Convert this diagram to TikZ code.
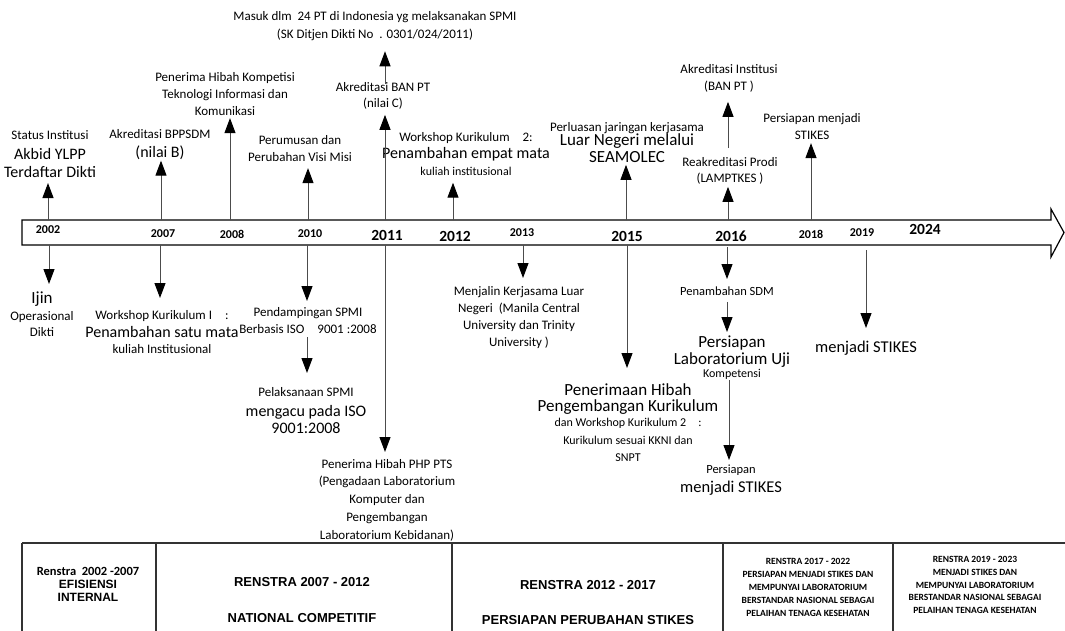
\documentclass[tikz,border=0pt]{standalone}
\usepackage{fontspec}
\setmainfont{Carlito}
\newfontfamily\arialf{Liberation Sans}
\usetikzlibrary{arrows.meta,calc}
\newcommand\sz[2]{\fontsize{#1}{#2}\selectfont}
\lineskiplimit=-30pt
\tikzset{
  txt/.style={align=center, inner sep=0pt, outer sep=0pt, anchor=north},
  arr/.style={draw=black!70, line width=1pt, -{Triangle[width=11pt,length=15pt,color=black]}},
  yr/.style={font=\bfseries\sz{12}{14}, inner sep=0pt},
  yrb/.style={font=\bfseries\sz{15.5}{17}, inner sep=0pt},
  tab/.style={draw=black!80, line width=1.2pt},
  cell/.style={align=center, inner sep=0pt},
}
\begin{document}
\begin{tikzpicture}[x=1pt,y=-1pt]
\useasboundingbox (0,0) rectangle (1065,630);
% timeline bar
\draw[line width=1.2pt, fill=white] (22,220) -- (1051,220) -- (1051,209) -- (1064,232.5) -- (1051,257) -- (1051,245) -- (22,245) -- cycle;
% bar coordinates
\coordinate (u2002) at (48,220);   \coordinate (d2002) at (49,245);
\coordinate (u2007) at (161,220);  \coordinate (d2007) at (160,245);
\coordinate (u2008) at (230,220);
\coordinate (u2010) at (308,220);  \coordinate (d2010) at (307,245);
\coordinate (u2011) at (385,220);  \coordinate (d2011) at (385,245);
\coordinate (u2012) at (453,220);
\coordinate (d2013) at (523,245);
\coordinate (u2015) at (626,220);  \coordinate (d2015) at (627,245);
\coordinate (u2016) at (728,220);  \coordinate (d2016) at (727,245);
\coordinate (d2016b) at (729,245);
\coordinate (u2018) at (811,220);
\coordinate (d2019) at (866,245);
% year labels
\node[yr]  (y2002) at (48,230) {2002};
\node[yr]  (y2007) at (163,234) {2007};
\node[yr]  (y2008) at (232,234) {2008};
\node[yr]  (y2010) at (310,234) {2010};
\node[yrb] (y2011) at (387,235) {2011};
\node[yrb] (y2012) at (455,236) {2012};
\node[yr]  (y2013) at (522,233) {2013};
\node[yrb] (y2015) at (627,236) {2015};
\node[yrb] (y2016) at (731,236) {2016};
\node[yr]  (y2018) at (811,234) {2018};
\node[yr]  (y2019) at (862,233) {2019};
\node[yrb] (y2024) at (925,229) {2024};
% upper texts
\node[txt, font=\sz{13}{18}] (n1) at (50,131) {Status Institusi\\[1.9pt]{\sz{16}{18}Akbid YLPP}\\{\sz{16}{18}Terdaftar Dikti}};
\node[txt, font=\sz{13}{18}] (n2) at (160,129) {Akreditasi BPPSDM\\[1.9pt]{\sz{16}{18}(nilai B)}};
\node[txt, font=\sz{13}{17}] (n3) at (225,72) {Penerima Hibah Kompetisi\\Teknologi Informasi dan\\Komunikasi};
\node[txt, font=\sz{13}{17}] (n4) at (300,135) {Perumusan dan\\Perubahan Visi Misi};
\node[txt, font=\sz{13}{16}] (n5) at (383,82) {Akreditasi BAN PT\\(nilai C)};
\node[txt, font=\sz{13}{18}] (n6) at (375,11) {Masuk dlm\ \ 24 PT di Indonesia yg melaksanakan SPMI\\(SK Ditjen Dikti No\ \ . 0301/024/2011)};
\node[txt, font=\sz{13}{17}] (n7) at (466,132) {Workshop Kurikulum\quad 2:\\[0.9pt]{\sz{16}{18}Penambahan empat mata}\\[-0.3pt]{\sz{12}{14}kuliah institusional}};
\node[txt, font=\sz{13}{17}] (n8) at (627,122) {Perluasan jaringan kerjasama\\[-2.3pt]{\sz{17}{18}Luar Negeri melalui}\\{\sz{17}{18}SEAMOLEC}};
\node[txt, font=\sz{13}{16}] (n9) at (730,157) {Reakreditasi Prodi\\(LAMPTKES )};
\node[txt, font=\sz{13}{17}] (n10) at (729,64) {Akreditasi Institusi\\(BAN PT )};
\node[txt, font=\sz{13}{17}] (n11) at (812,113) {Persiapan menjadi\\STIKES};
% lower texts
\node[txt, font=\sz{13}{16}] (n12) at (42,291.5) {{\sz{17}{18}Ijin}\\[0.8pt]Operasional\\Dikti};
\node[txt, font=\sz{13}{16}] (n13) at (162,310) {Workshop Kurikulum I\quad:\\[2.9pt]{\sz{16}{18}Penambahan satu mata}\\kuliah Institusional};
\node[txt, font=\sz{13}{17}] (n14) at (308,307) {Pendampingan SPMI\\Berbasis ISO\quad 9001 :2008};
\node[txt, font=\sz{13}{17}] (n15) at (306,387) {Pelaksanaan SPMI\\[3.9pt]{\sz{16}{18}mengacu pada ISO}\\{\sz{16}{18}9001:2008}};
\node[txt, font=\sz{13}{17.8}] (n16) at (387,459) {Penerima Hibah PHP PTS\\(Pengadaan Laboratorium\\Komputer dan\\Pengembangan\\Laboratorium Kebidanan)};
\node[txt, font=\sz{13}{17}] (n17) at (519,286) {Menjalin Kerjasama Luar\\Negeri\ \ (Manila Central\\University dan Trinity\\University )};
\node[txt, font=\sz{12}{16.5}] (n18) at (628,383.5) {{\sz{17}{18}Penerimaan Hibah}\\[-0.5pt]{\sz{17}{18}Pengembangan Kurikulum}\\[-1.1pt]dan Workshop Kurikulum 2\quad:\\[1.5pt]Kurikulum sesuai KKNI dan\\[0.5pt]SNPT};
\node[txt, font=\sz{12.5}{16}] (n19) at (727,287) {Penambahan SDM};
\node[txt, font=\sz{12}{17}] (n20) at (732,335.5) {{\sz{17}{18}Persiapan}\\{\sz{17}{18}Laboratorium Uji}\\[-3.6pt]Kompetensi};
\node[txt, font=\sz{12.5}{19.3}] (n21) at (731,465) {Persiapan\\{\sz{16.5}{18}menjadi STIKES}};
\node[txt, font=\sz{16.5}{18}] (n22) at (866,340.7) {menjadi STIKES};
% upward arrows
\draw[arr, shorten >=5pt] (u2002) -- (u2002 |- n1.south);
\draw[arr, shorten >=0.5pt] (u2007) -- (u2007 |- n2.south);
\draw[arr, shorten >=3pt] (u2008) -- (u2008 |- n3.south);
\draw[arr, shorten >=7pt] (u2010) -- (u2010 |- n4.south);
\draw[arr, shorten >=6pt] (u2011) -- (u2011 |- n5.south);
\draw[arr, shorten <=-2pt, shorten >=11pt] (n5.north -| u2011) -- (n6.south -| u2011);
\draw[arr, shorten >=7pt] (u2012) -- (u2012 |- n7.south);
\draw[arr, shorten >=2pt] (u2015) -- (u2015 |- n8.south);
\draw[arr, shorten >=3pt] (u2016) -- (u2016 |- n9.south);
\draw[arr, shorten <=9pt, shorten >=10pt] (n9.north -| u2016) -- (n10.south -| u2016);
\draw[arr, shorten >=4pt] (u2018) -- (u2018 |- n11.south);
% downward arrows
\draw[arr, shorten >=7.5pt] (d2002) -- (d2002 |- n12.north);
\draw[arr, shorten >=12pt] (d2007) -- (d2007 |- n13.north);
\draw[arr, shorten >=6pt] (d2010) -- (d2010 |- n14.north);
\draw[arr, shorten <=4pt, shorten >=14pt] (n14.south -| d2010) -- (n15.north -| d2010);
\draw[arr, shorten >=7pt] (d2011) -- (d2011 |- n16.north);
\draw[arr, shorten >=8pt] (d2013) -- (d2013 |- n17.north);
\draw[arr, shorten >=15.5pt] (d2015) -- (d2015 |- n18.north);
\draw[arr, shorten <=2pt, shorten >=8pt] (d2016) -- (d2016 |- n19.north);
\draw[arr, shorten <=6pt, shorten >=3.5pt] (n19.south -| d2016) -- (n20.north -| d2016);
\draw[arr, shorten <=0.7pt, shorten >=5pt] (n20.south -| d2016b) -- (n21.north -| d2016b);
\draw[arr, shorten <=5pt, shorten >=12.7pt] (d2019) -- (d2019 |- n22.north);
% table
\draw[tab] (22,543) -- (1065,543);
\foreach \xx in {22,156,452,723,893} \draw[tab] (\xx,543) -- (\xx,632);
\node[cell, font=\sz{12}{13}] (c1) at (88,584) {{\bfseries\sz{12.5}{13}Renstra\ \ 2002 -2007}\\{\arialf\bfseries EFISIENSI}\\{\arialf\bfseries INTERNAL}};
\node[cell, font=\arialf\bfseries\sz{13}{36}] (c2) at (302,600) {RENSTRA 2007 - 2012\\NATIONAL COMPETITIF};
\node[cell, font=\arialf\bfseries\sz{13}{35}] (c3) at (588,602.5) {RENSTRA 2012 - 2017\\PERSIAPAN PERUBAHAN STIKES};
\node[cell, font=\bfseries\sz{9.5}{13.2}] (c4) at (808,587.5) {RENSTRA 2017 - 2022\\PERSIAPAN MENJADI STIKES DAN\\MEMPUNYAI LABORATORIUM\\BERSTANDAR NASIONAL SEBAGAI\\PELAIHAN TENAGA KESEHATAN};
\node[cell, font=\bfseries\sz{9.5}{12.7}] (c5) at (975,585) {RENSTRA 2019 - 2023\\MENJADI STIKES DAN\\MEMPUNYAI LABORATORIUM\\BERSTANDAR NASIONAL SEBAGAI\\PELAIHAN TENAGA KESEHATAN};
\end{tikzpicture}
\end{document}
